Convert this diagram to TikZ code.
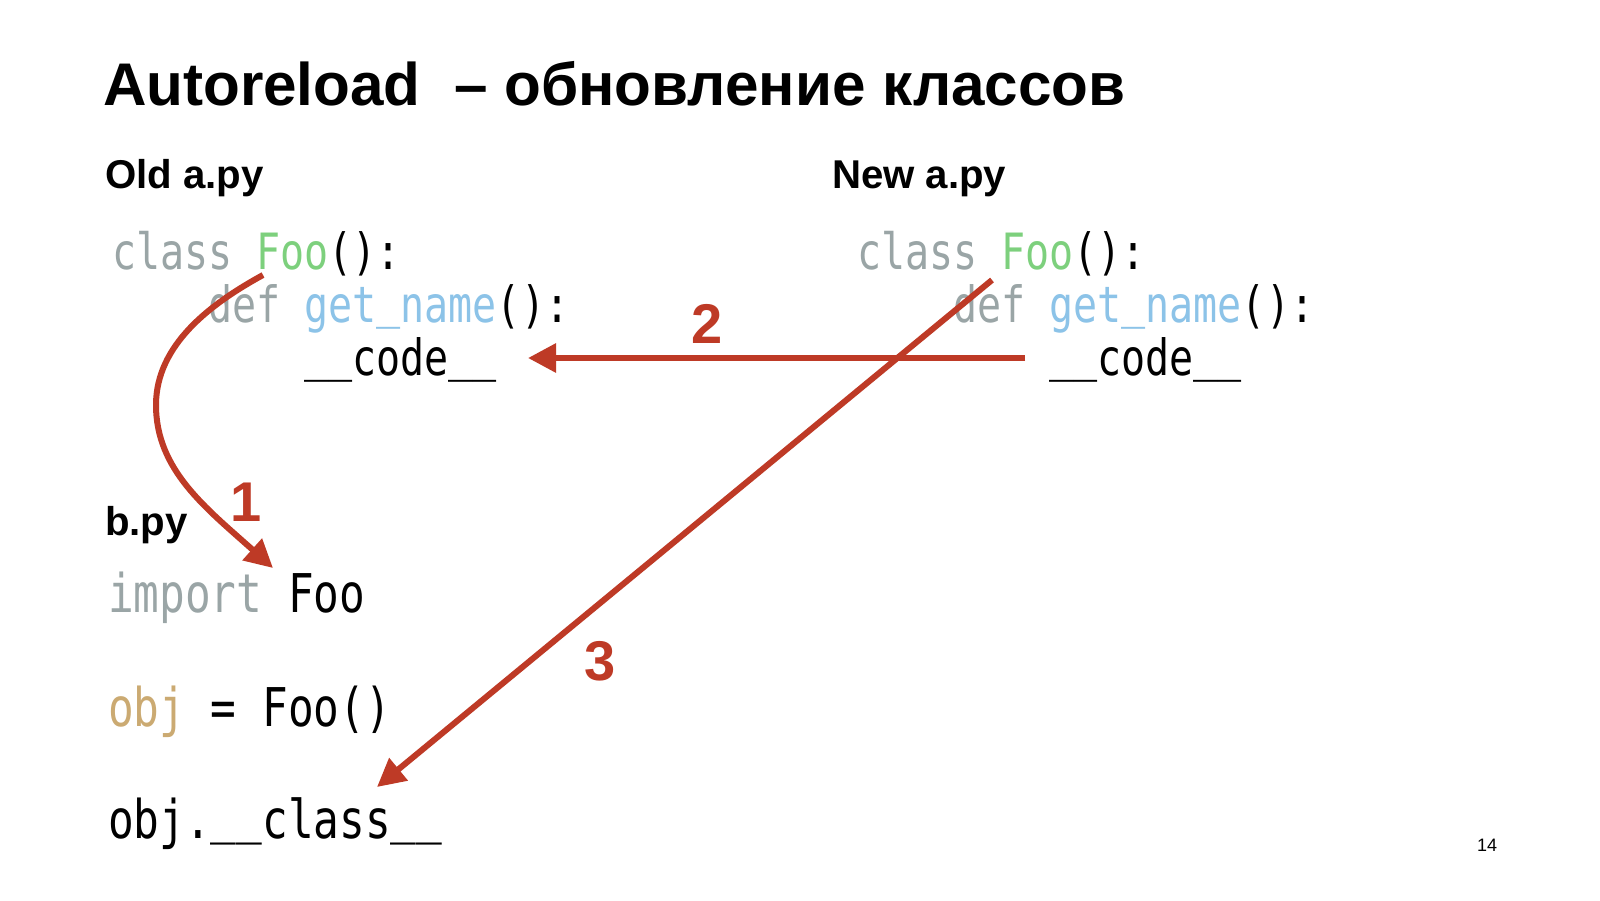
\documentclass[tikz,border=0pt]{standalone}
\usepackage{fontspec}
\setmainfont{Liberation Sans}
\newfontfamily\codefont[FakeStretch=0.8]{DejaVu Sans Mono}
\usetikzlibrary{arrows.meta}
\definecolor{kw}{HTML}{9AA5A6}
\definecolor{clsgreen}{HTML}{7DD07D}
\definecolor{fnblue}{HTML}{8CC3E8}
\definecolor{objtan}{HTML}{CBAA72}
\definecolor{arrred}{HTML}{BE3A26}
\newcommand{\myus}{\raisebox{0.1em}{\_}}
\tikzset{
  txt/.style={anchor=base west, inner sep=0pt, outer sep=0pt},
  title/.style={txt, font=\fontsize{30.1pt}{36pt}\selectfont\bfseries},
  heading/.style={txt, font=\fontsize{20.1pt}{24pt}\selectfont\bfseries},
  code/.style={txt, font=\codefont\fontsize{25pt}{30pt}\selectfont},
  bcode/.style={txt, font=\codefont\fontsize{26.7pt}{31pt}\selectfont},
  num/.style={inner sep=0pt, text=arrred, font=\fontsize{28pt}{32pt}\selectfont\bfseries},
  redarrow/.style={draw=arrred, line width=3pt, -{Triangle[length=14pt,width=14pt]}},
}
\begin{document}
\begin{tikzpicture}[x=0.5pt, y=-0.5pt]
\useasboundingbox (0,0) rectangle (1600,900);
\fill[white] (0,0) rectangle (1600,900);

\node[title] (title) at (103,105) {Autoreload\ \ – обновление классов};

\node[heading] (oldh) at (105,188) {Old a.py};
\node[heading] (newh) at (832,188) {New a.py};
\node[heading] (bh) at (105,535) {b.py};

% old a.py
\node[code] (o1) at (112,269) {\textcolor{kw}{class} \textcolor{clsgreen}{Foo}():};
\node[code] (o2) at (208,322) {\textcolor{kw}{def} \textcolor{fnblue}{get\myus name}():};
\node[code] (o3) at (304,375) {\myus\myus code\myus\myus};

% new a.py
\node[code] (n1) at (857,269) {\textcolor{kw}{class} \textcolor{clsgreen}{Foo}():};
\node[code] (n2) at (953,322) {\textcolor{kw}{def} \textcolor{fnblue}{get\myus name}():};
\node[code] (n3) at (1049,375) {\myus\myus code\myus\myus};

% b.py
\node[bcode] (b1) at (108,612) {\textcolor{kw}{import} Foo};
\node[bcode] (b2) at (108,726) {\textcolor{objtan}{obj} = Foo()};
\node[bcode] (b3) at (108,838) {obj.\myus\myus class\myus\myus};

% arrow end points
\coordinate (a1s) at (263,275);
\coordinate (a1m) at (156,405);
\coordinate (a1e) at (273,568);
\coordinate (a2s) at (1025,358);
\coordinate (a2e) at (528,358);
\coordinate (a3s) at (992,280);
\coordinate (a3e) at (377,787);

\draw[redarrow] (a1s) .. controls (210,304) and (156,345) .. (a1m)
                      .. controls (156,470) and (206,508) .. (a1e);
\draw[redarrow] (a2s) -- (a2e);
\draw[redarrow] (a3s) -- (a3e);

\node[num] (l1) at (246,502) {1};
\node[num] (l2) at (707,324) {2};
\node[num] (l3) at (600,661) {3};

\node[inner sep=0pt, font=\fontsize{9pt}{11pt}\selectfont] (page) at (1487,845) {14};
\end{tikzpicture}
\end{document}
